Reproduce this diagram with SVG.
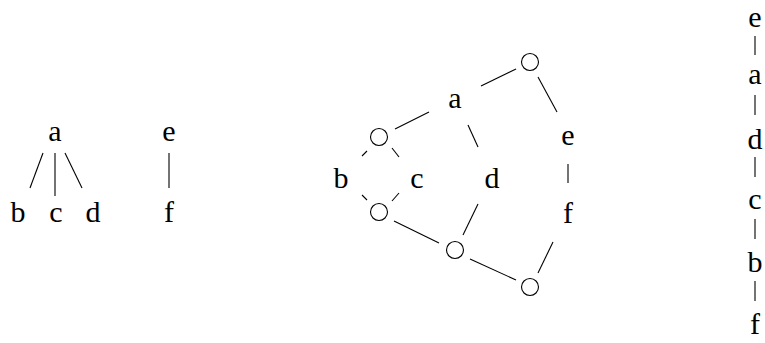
<svg xmlns="http://www.w3.org/2000/svg" width="765" height="343" viewBox="0 0 765 343">
<style>
text{font-family:"Liberation Serif","DejaVu Serif",serif;font-size:30px;fill:#000;text-anchor:middle}
line,circle{stroke:#000;stroke-width:1.1;fill:none}
circle{fill:#fff}
</style>
<rect width="765" height="343" fill="#fff"/>
<g id="connectors">
<line x1="43" y1="153" x2="30" y2="188"/>
<line x1="55" y1="153" x2="55" y2="196"/>
<line x1="65" y1="153" x2="82" y2="188"/>
<line x1="169" y1="153" x2="169" y2="188"/>
<line x1="481" y1="86" x2="516" y2="69"/>
<line x1="538" y1="77" x2="557" y2="112"/>
<line x1="429" y1="112" x2="395" y2="129"/>
<line x1="468" y1="125" x2="478" y2="147"/>
<line x1="362" y1="156" x2="367" y2="151"/>
<line x1="392" y1="148" x2="399" y2="157"/>
<line x1="568" y1="164" x2="568" y2="183"/>
<line x1="362" y1="195" x2="367" y2="200"/>
<line x1="399" y1="193" x2="392" y2="201"/>
<line x1="394" y1="221" x2="439" y2="243"/>
<line x1="478" y1="204" x2="463" y2="235"/>
<line x1="470" y1="259" x2="516" y2="280"/>
<line x1="553" y1="242" x2="538" y2="273"/>
<line x1="755" y1="36" x2="755" y2="55"/>
<line x1="755" y1="95" x2="755" y2="115"/>
<line x1="755" y1="157" x2="755" y2="177"/>
<line x1="755" y1="219" x2="755" y2="239"/>
<line x1="755" y1="281" x2="755" y2="301"/>
</g>
<g id="tree1">
<text x="55" y="141">a</text>
<text x="18" y="222">b</text>
<text x="56" y="222">c</text>
<text x="93" y="222">d</text>
</g>
<g id="tree2">
<text x="169" y="141">e</text>
<text x="169" y="222">f</text>
</g>
<g id="graph">
<circle id="n-top" cx="530" cy="62" r="8.5"/>
<circle id="n-ul" cx="379" cy="137" r="8.5"/>
<circle id="n-ll" cx="379" cy="212" r="8.5"/>
<circle id="n-mid" cx="455" cy="250" r="8.5"/>
<circle id="n-bot" cx="530" cy="287" r="8.5"/>
<text x="455" y="108">a</text>
<text x="341" y="188">b</text>
<text x="417" y="188">c</text>
<text x="492" y="188">d</text>
<text x="568" y="145">e</text>
<text x="568" y="223">f</text>
</g>
<g id="chain">
<text x="755" y="27">e</text>
<text x="755" y="84">a</text>
<text x="755" y="149">d</text>
<text x="755" y="209">c</text>
<text x="755" y="272">b</text>
<text x="755" y="334">f</text>
</g>
</svg>
